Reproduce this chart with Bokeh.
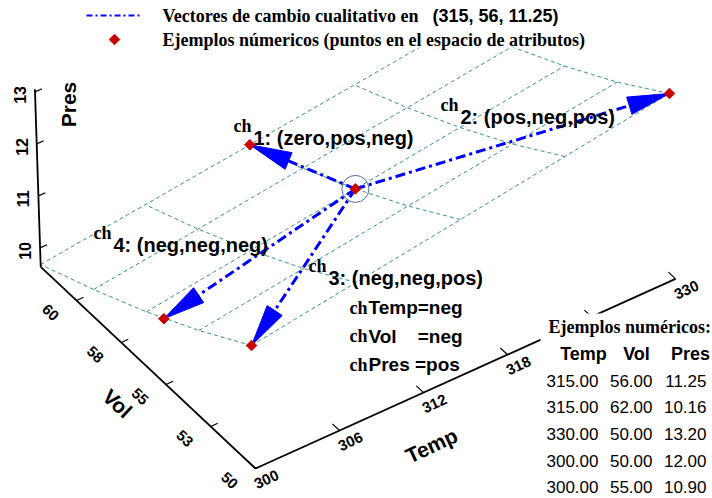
import numpy as np
from bokeh.plotting import figure
from bokeh.models import Range1d
from bokeh.core.properties import value
from bokeh.embed import file_html
from bokeh.resources import INLINE

# ---------------- data ----------------
temp_grid = [300.0, 307.5, 315.0, 322.5, 330.0]
vol_grid = [50.0, 53.0, 56.0, 59.0, 62.0]
# Pres on the mesh (rows follow vol_grid, columns follow temp_grid)
pres_grid = [
    [12.00, 12.30, 12.60, 12.90, 13.20],
    [11.32, 11.60, 11.89, 12.17, 12.45],
    [10.71, 10.98, 11.25, 11.52, 11.79],
    [10.17, 10.42, 10.68, 10.93, 11.19],
    [9.68, 9.92, 10.16, 10.40, 10.65],
]
# numerical examples (first one is the reference point)
ex_temp = [315.0, 315.0, 330.0, 300.0, 300.0]
ex_vol = [56.0, 62.0, 50.0, 50.0, 55.0]
ex_pres = [11.25, 10.16, 13.20, 12.00, 10.90]
change_labels = ["1: (zero,pos,neg)", "2: (pos,neg,pos)", "3: (neg,neg,pos)", "4: (neg,neg,neg)"]
change_label_pos = [(253, 137), (460, 116), (328, 277), (113, 244)]
ch3_lines = ["Temp=neg", "Vol\u00a0\u00a0\u00a0\u00a0=neg", "Pres =pos"]
temp_ticks = [300, 306, 312, 318, 324, 330]
temp_tick_labels = ["300", "306", "312", "318", "", "330"]
vol_ticks = [50, 52.5, 55, 57.5, 60]
vol_tick_labels = ["50", "53", "55", "58", "60"]
pres_ticks = [10, 11, 12, 13]
pres_tick_labels = ["10", "11", "12", "13"]
temp_lim = (300.0, 330.0)
vol_lim = (50.0, 62.0)
pres_lim = (9.635, 13.05)
legend_texts = ["Vectores de cambio cualitativo en", "(315, 56, 11.25)",
                "Ejemplos númericos (puntos en el espacio de atributos)"]
table_title = "Ejemplos numéricos:"
table_header = ["Temp", "Vol", "Pres"]

# ---------------- style ----------------
SANS = "Liberation Sans"
SERIF = "Liberation Serif"
MESH = "#3a918a"
BLUE = "#0000ff"
RED = "#cc0000"


def proj(T, V, P):
    """Orthographic view of (Temp, Vol, Pres) onto the page."""
    T = np.asarray(T, float)
    V = np.asarray(V, float)
    P = np.asarray(P, float)
    x = 271.4 + 14.0 * (T - 300.0) - 17.9 * (V - 50.0) - 1.7 * P
    y = 969.0 - 6.32 * (T - 300.0) - 16.8 * (V - 50.0) - 52.0 * P
    return x, y


p = figure(width=712, height=498, x_range=Range1d(0, 712), y_range=Range1d(498, 0),
           output_backend="svg", toolbar_location=None, min_border=0,
           x_axis_location=None, y_axis_location=None)
p.grid.visible = False
p.outline_line_color = None
p.background_fill_color = "white"
p.border_fill_color = "white"


def txt(x, y, s, size, font=SANS, bold=True, align="left", baseline="middle", angle=0.0):
    p.text(x=[x], y=[y], text=[s], text_font=value(font), text_font_size=f"{size}px",
           text_font_style="bold" if bold else "normal", text_align=align,
           text_baseline=baseline, angle=angle, text_color="black")


# ---------------- mesh ----------------
mx, my = [], []
for j, V in enumerate(vol_grid):
    x, y = proj(temp_grid, [V] * len(temp_grid), pres_grid[j])
    mx.append(list(x)); my.append(list(y))
for i, T in enumerate(temp_grid):
    x, y = proj([T] * len(vol_grid), vol_grid, [row[i] for row in pres_grid])
    mx.append(list(x)); my.append(list(y))
p.multi_line(mx, my, line_color=MESH, line_width=1, line_dash="4 3")

# ---------------- axes ----------------
pmin, pmax = pres_lim
ax_x, ax_y = [], []
x, y = proj([temp_lim[0]] * 2, [vol_lim[1], vol_lim[0]], [pmin, pmin]); ax_x.append(list(x)); ax_y.append(list(y))
x, y = proj([temp_lim[0], temp_lim[1]], [vol_lim[0]] * 2, [pmin, pmin]); ax_x.append(list(x)); ax_y.append(list(y))
x, y = proj([temp_lim[0]] * 2, [vol_lim[1]] * 2, [pmin, pmax]); ax_x.append(list(x)); ax_y.append(list(y))
p.multi_line(ax_x, ax_y, line_color="black", line_width=1.8)

tk_x, tk_y = [], []
for t, lab in zip(temp_ticks, temp_tick_labels):
    x0, y0 = proj(t, vol_lim[0], pmin); x1, y1 = proj(t, vol_lim[0] + 0.4, pmin)
    tk_x.append([float(x0), float(x1)]); tk_y.append([float(y0), float(y1)])
    if lab:
        txt(float(x0) + 11, float(y0) + 11, lab, 15, align="center", angle=np.radians(25))
for v, lab in zip(vol_ticks, vol_tick_labels):
    x0, y0 = proj(temp_lim[0], v, pmin); x1, y1 = proj(temp_lim[0] + 0.5, v, pmin)
    tk_x.append([float(x0), float(x1)]); tk_y.append([float(y0), float(y1)])
    txt(float(x0) - 26, float(y0) + 12, lab, 15, align="center", angle=np.radians(-43))
for pz, lab in zip(pres_ticks, pres_tick_labels):
    x0, y0 = proj(temp_lim[0], vol_lim[1], pz); x1, y1 = proj(temp_lim[0] + 0.5, vol_lim[1], pz)
    tk_x.append([float(x0), float(x1)]); tk_y.append([float(y0), float(y1)])
    txt(float(x0) - 15, float(y0) + 3, lab, 16, align="center", angle=np.radians(90))
p.multi_line(tk_x, tk_y, line_color="black", line_width=1.2)

txt(68, 104, "Pres", 21, align="center", angle=np.radians(90))
txt(117, 403, "Vol", 21, align="center", angle=np.radians(-43))
txt(431, 445, "Temp", 21, align="center", angle=np.radians(25))

# ---------------- change vectors ----------------
cx, cy = proj(ex_temp[0], ex_vol[0], ex_pres[0])
cx, cy = float(cx), float(cy)
tx, ty = proj(ex_temp[1:], ex_vol[1:], ex_pres[1:])
HEAD, HALF = 42.0, 9.0
lx, ly, hx, hy = [], [], [], []
for X, Y in zip(tx, ty):
    dx, dy = X - cx, Y - cy
    L = np.hypot(dx, dy)
    ux, uy = dx / L, dy / L
    bx, by = X - HEAD * ux, Y - HEAD * uy
    lx.append([cx, float(bx)]); ly.append([cy, float(by)])
    hx.append([float(X), float(bx - HALF * uy), float(bx + HALF * uy)])
    hy.append([float(Y), float(by + HALF * ux), float(by - HALF * ux)])
p.multi_line(lx, ly, line_color=BLUE, line_width=3, line_dash="10 4 3 4")
p.patches(hx, hy, fill_color=BLUE, line_color=BLUE, line_width=1)

p.scatter([cx], [cy], marker="circle", size=27, fill_color=None, line_color="#5566a0", line_width=1)
ex_x, ex_y = proj(ex_temp, ex_vol, ex_pres)
p.scatter(list(ex_x), list(ex_y), marker="square", angle=np.pi / 4, size=7.5,
          fill_color=RED, line_color=RED)

# ---------------- labels ----------------
for lab, (lxp, lyp) in zip(change_labels, change_label_pos):
    txt(lxp - 2, lyp - 12, "ch", 18, font=SERIF, align="right", baseline="alphabetic")
    txt(lxp, lyp, lab, 20, baseline="alphabetic")
for k, s in enumerate(ch3_lines):
    yb = 307 + k * 28.5
    txt(367, yb, "ch", 18, font=SERIF, align="right", baseline="alphabetic")
    txt(368, yb, s, 19, baseline="alphabetic")

# ---------------- legend ----------------
p.quad(left=[0], right=[650], top=[0], bottom=[47], fill_color="white", line_color=None)
p.line([86, 141], [15, 15], line_color=BLUE, line_width=2, line_dash="6 3 2 3")
p.scatter([114], [39], marker="square", angle=np.pi / 4, size=7.5, fill_color=RED, line_color=RED)
txt(162, 15, legend_texts[0], 18, font=SERIF)
txt(432, 15, legend_texts[1], 18)
txt(162, 39, legend_texts[2], 18, font=SERIF)

# ---------------- table ----------------
p.quad(left=[540], right=[712], top=[313], bottom=[498], fill_color="white", line_color=None)
txt(548, 326, table_title, 18, font=SERIF)
for hx_, h in zip([583, 636, 690], table_header):
    txt(hx_, 353, h, 18, align="center")
for r in range(len(ex_temp)):
    yr = 380 + r * 26.7
    txt(598, yr, f"{ex_temp[r]:.2f}", 17, bold=False, align="right")
    txt(652, yr, f"{ex_vol[r]:.2f}", 17, bold=False, align="right")
    txt(706, yr, f"{ex_pres[r]:.2f}", 17, bold=False, align="right")

open("out.html", "w").write(file_html(p, INLINE))
